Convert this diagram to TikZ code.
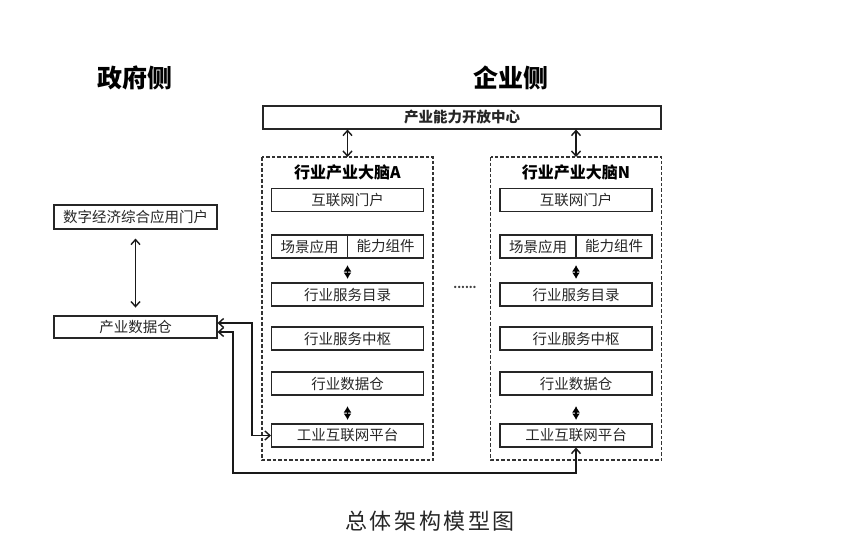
\documentclass[tikz,border=0pt]{standalone}
\usepackage{fontspec}
\setmainfont{Noto Sans CJK SC}
\newfontfamily\capfont[LetterSpace=12]{Noto Sans CJK SC}
\usetikzlibrary{arrows.meta}
\begin{document}
\begin{tikzpicture}[x=1pt,y=-1pt,
  box/.style={draw=black!85,line width=1.1pt,inner sep=0pt,minimum height=23pt,font=\fontsize{14.5}{14.5}\selectfont,text=black!85},
  brain/.style={draw=black!80,line width=1.4pt,dash pattern=on 3.5pt off 2pt},
  link/.style={line width=1.3pt,draw=black!90,{Straight Barb[length=5pt,width=9pt,line width=1.4pt]}-{Straight Barb[length=5pt,width=9pt,line width=1.4pt]}},
  tiny/.style={line width=1.4pt,{Latex[length=6.5pt,width=8pt]}-{Latex[length=6.5pt,width=8pt]}},
  head/.style={font=\fontsize{25}{25}\selectfont\bfseries}]
\useasboundingbox (0,0) rectangle (867,554);
% side titles
\node[head] (gov) at (135,78) {政府侧};
\node[head] (ent) at (511,78) {企业侧};
% top bar
\node[box,minimum width=398pt,font=\fontsize{14.5}{14.5}\selectfont\bfseries] (top) at (462,117.5) {产业能力开放中心};
% brain boxes
\foreach \nm/\cx/\lab in {A/347.5/A, N/576/N}{
  \draw[brain] (\cx-85.5,157) rectangle (\cx+85.5,460);
  \coordinate (b\nm) at (\cx,157);
  \node[font=\fontsize{16}{16}\selectfont\bfseries] (t\nm) at (\cx,172) {行业产业大脑\lab};
  \node[box,minimum width=152pt] (p\nm) at (\cx,200) {互联网门户};
  \node[box,minimum width=76pt] (s\nm) at (\cx-38,246.5) {场景应用};
  \node[box,minimum width=76pt] (c\nm) at (\cx+38,246.5) {能力组件};
  \node[box,minimum width=152pt] (m\nm) at (\cx,294.5) {行业服务目录};
  \node[box,minimum width=152pt] (h\nm) at (\cx,338.5) {行业服务中枢};
  \node[box,minimum width=152pt] (d\nm) at (\cx,383.5) {行业数据仓};
  \node[box,minimum width=152pt] (i\nm) at (\cx,435.5) {工业互联网平台};
  \draw[link] (top.south -| b\nm) -- (b\nm);
  \draw[tiny] (\cx,265) -- (\cx,279);
  \draw[tiny] (\cx,406) -- (\cx,420);
}
\node[font=\fontsize{11}{11}\selectfont\bfseries,text=black!75] (dots) at (465,287) {......};
% government side
\node[box,minimum width=163pt,minimum height=24pt] (portal) at (135.5,217) {数字经济综合应用门户};
\node[box,minimum width=163pt,minimum height=22pt] (dw) at (135.5,327) {产业数据仓};
\draw[link] (portal.south) ++(0,9) coordinate (pa) -- ++(0,69) coordinate (pb);
% connectors
\coordinate (r1) at (252,323);
\coordinate (r2) at (233,332);
\draw[link] (dw.east |- r1) -- (r1) |- (iA.west);
\draw[link] (dw.east |- r2) -- (r2) -- (233,473) -| (iN.south);
% caption
\node[font=\capfont\fontsize{22}{22}\selectfont,text=black!85] (cap) at (430,521) {总体架构模型图};
\end{tikzpicture}
\end{document}
